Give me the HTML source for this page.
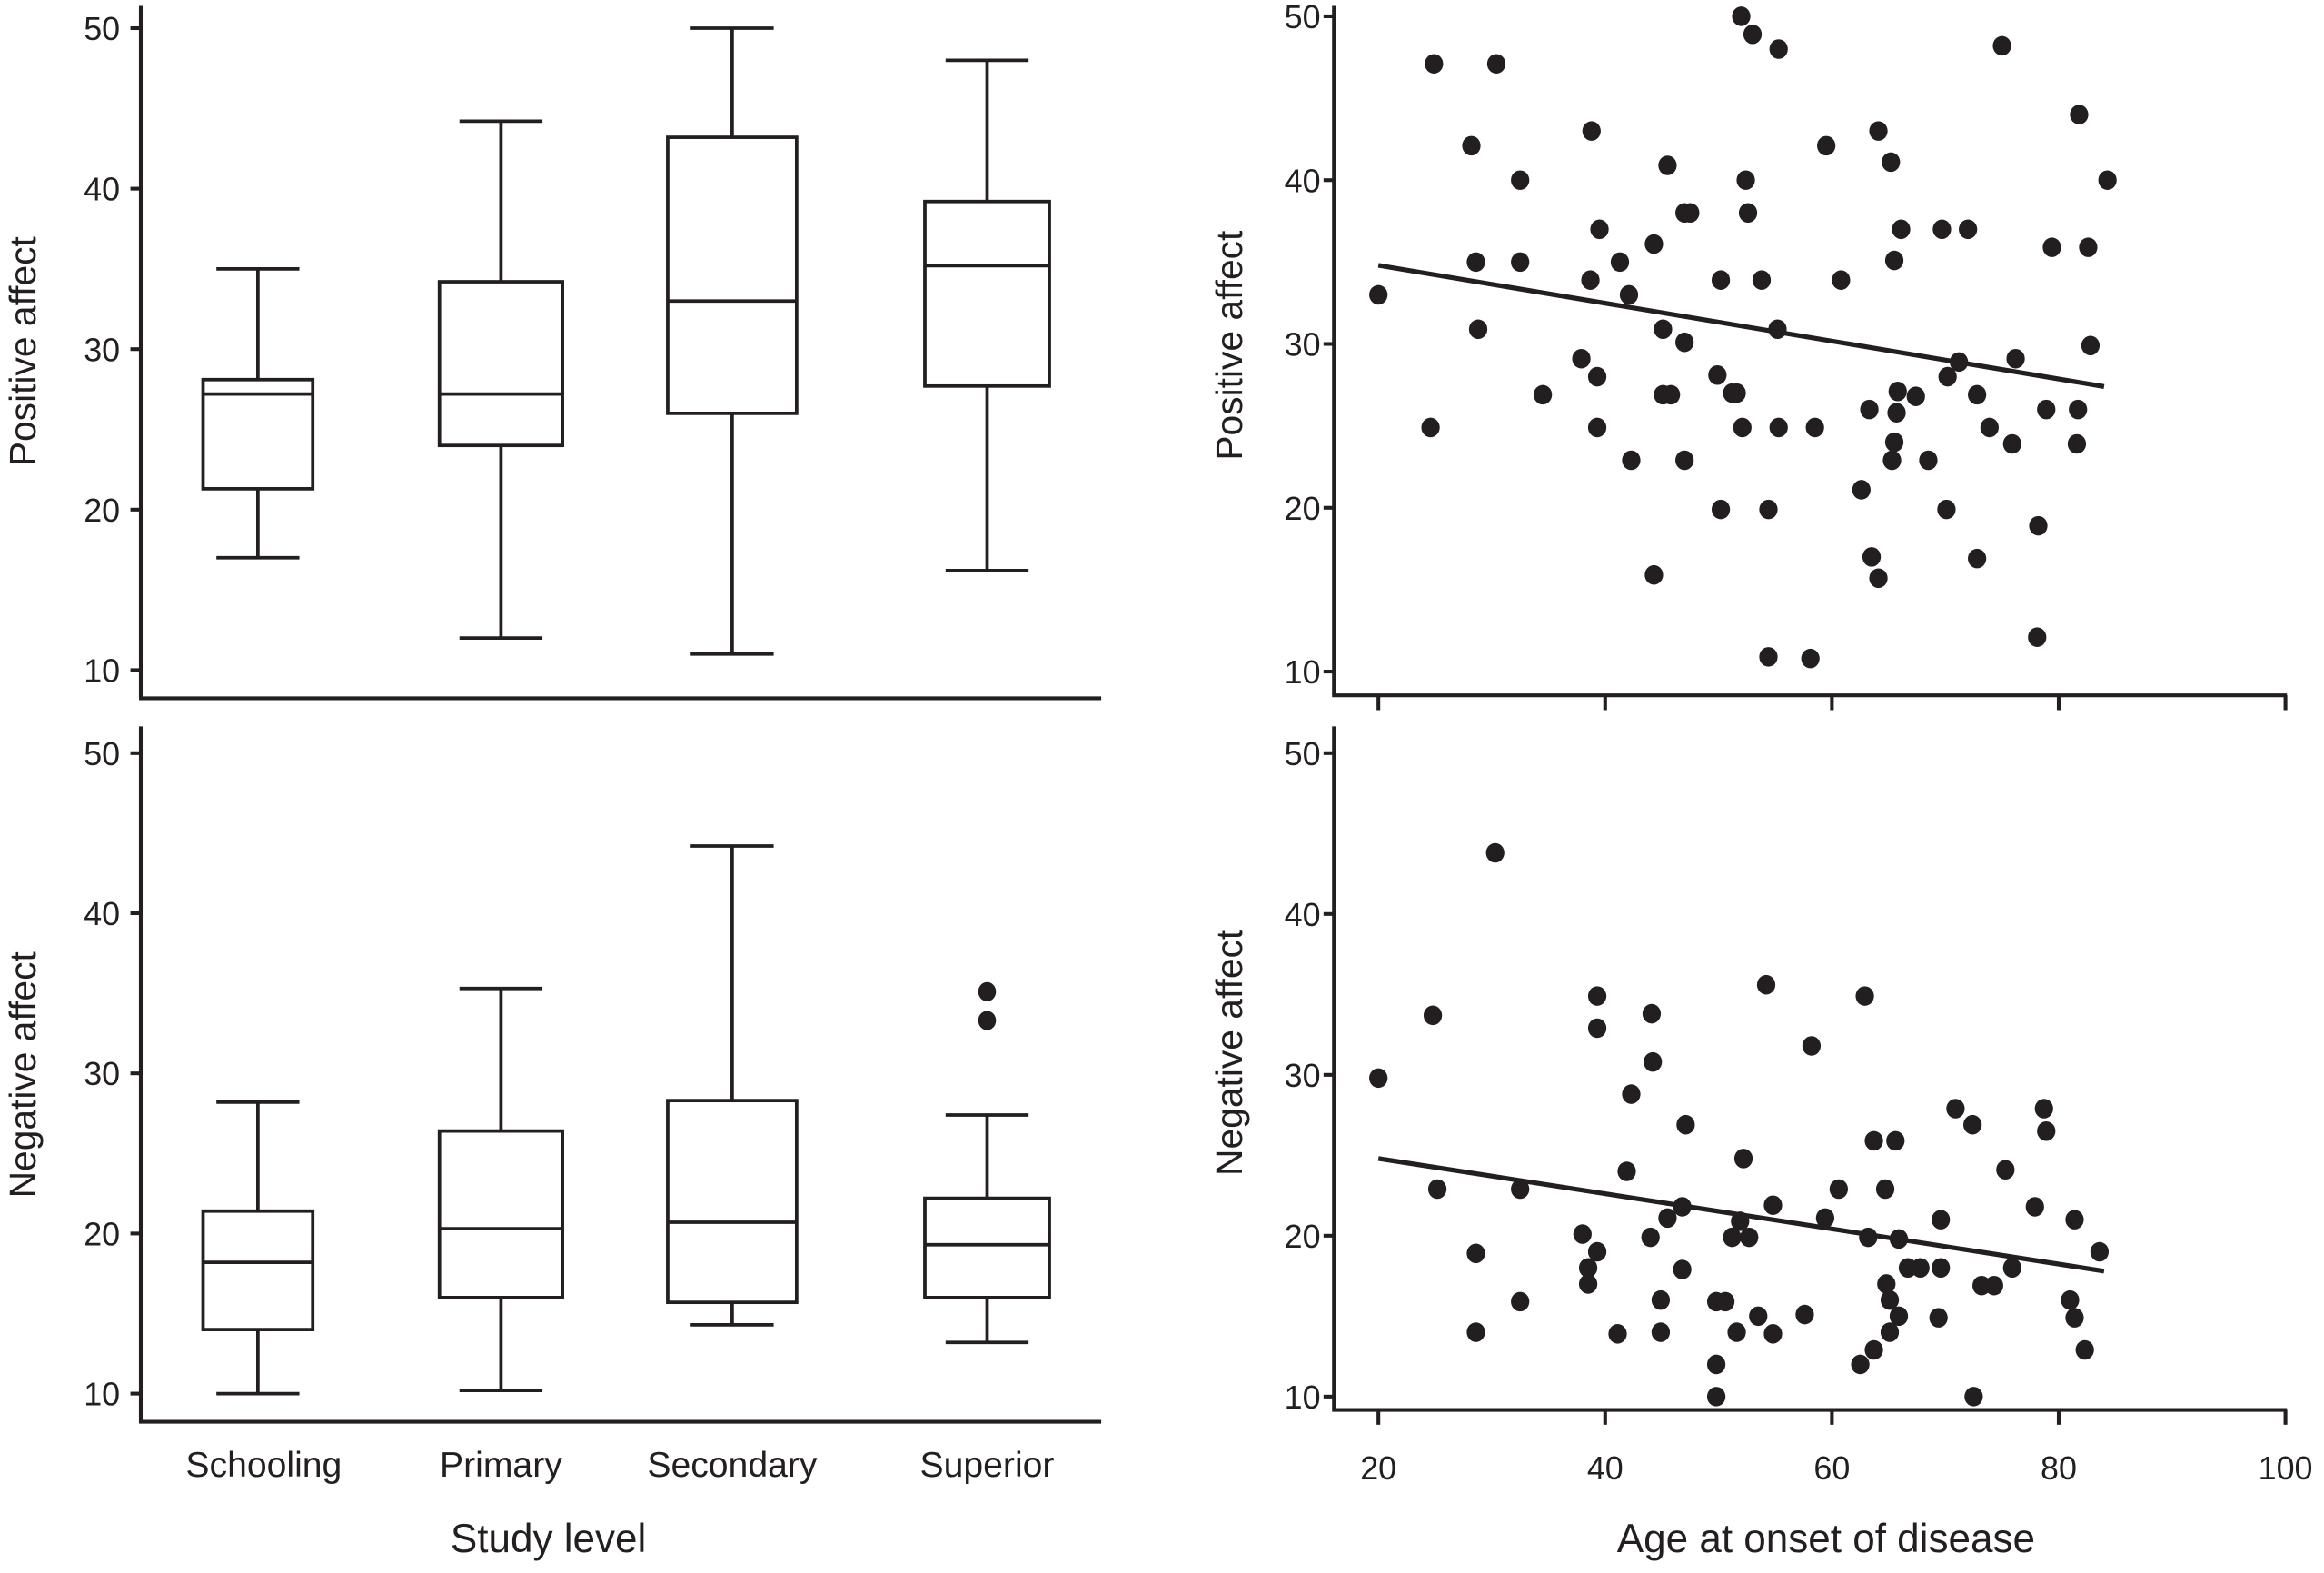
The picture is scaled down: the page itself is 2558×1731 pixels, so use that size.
<!DOCTYPE html>
<html><head><meta charset="utf-8"><style>
html,body{margin:0;padding:0;background:#fff;}
svg{display:block;}
text{font-family:"Liberation Sans",sans-serif;fill:#231f20;}
</style></head><body>
<svg id="fig" xmlns="http://www.w3.org/2000/svg" width="2558" height="1731" viewBox="0 0 1568 1061" preserveAspectRatio="none"></svg>
<script>
const categories = ["Schooling","Primary","Secondary","Superior"];
const posWhiskerLow = [17, 12, 11, 16.2];
const posQ1 = [21.3, 24, 26, 27.7];
const posMedian = [27.2, 27.2, 33, 35.2];
const posQ3 = [28.1, 34.2, 43.2, 39.2];
const posWhiskerHigh = [35, 44.2, 50, 48];
const negWhiskerLow = [10, 10.2, 14.3, 13.2];
const negQ1 = [14, 16, 15.7, 16];
const negMedian = [18.2, 20.3, 20.7, 19.3];
const negQ3 = [21.4, 26.4, 28.3, 22.2];
const negWhiskerHigh = [28.2, 35.3, 44.2, 27.4];
const negOutliers = [[3, 35.1], [3, 33.3]];
const yTicks = [10, 20, 30, 40, 50];
const xTicks = [20, 40, 60, 80, 100];

const posAge = [20,24.9,24.6,28.2,28.6,28.8,30.4,32.5,32.5,34.5,37.9,38.7,38.8,39.3,39.3,39.5,41.3,42.1,42.3,44.3,44.3,45.1,45.1,45.8,45.5,47,47,47,47.5,49.9,50.2,50.2,51.2,51.6,52,52.4,52.6,52.1,53,53.8,54.4,54.4,55.3,55.2,55.3,58.1,58.5,59.5,60.8,62.6,63.3,63.5,64.1,64.1,65.2,65.3,65.5,65.5,65.7,65.8,66.1,67.4,68.5,69.7,70.1,70.2,71.2,72,72.8,72.8,73.9,75,75.9,76.2,78.1,78.2,78.9,79.4,81.6,81.7,81.8,82.6,82.8,84.3];
const posVal = [33,47.1,24.9,42.1,35,30.9,47.1,40,35,26.9,29.1,33.9,43,28,24.9,37,35,33,22.9,36.1,15.9,30.9,26.9,26.9,40.9,30.1,22.9,38,38,28.1,33.9,19.9,27,27,50,40,38,24.9,48.9,33.9,19.9,10.9,48,30.9,24.9,10.8,24.9,42.1,33.9,21.1,26,17,43,15.7,41.1,22.9,24,35.1,25.8,27.1,37,26.8,22.9,37,19.9,28,28.9,37,16.9,26.9,24.9,48.2,23.9,29.1,12.1,18.9,26,35.9,23.9,26,44,35.9,29.9,40];
const negAge = [20,24.8,25.2,28.6,28.6,30.3,32.5,32.5,38,38.5,38.5,39.3,39.3,39.3,41.1,41.9,42.3,44,44.1,44.2,44.9,44.9,45.5,46.8,46.8,47.1,49.8,49.8,49.8,50.6,51.2,51.6,51.9,52.2,52.7,53.5,54.2,54.8,54.8,57.6,58.2,59.4,60.6,62.5,62.9,63.2,63.7,63.7,64.7,64.8,65.1,65.1,65.6,65.9,65.9,66.7,67.8,69.4,69.6,69.6,70.9,72.4,72.5,73.2,74.3,75.3,75.9,77.9,78.7,78.9,81,81.4,81.4,82.3,83.6];
const negVal = [29.8,33.7,22.9,18.9,14,43.8,22.9,15.9,20.1,18,17,34.9,32.9,19,13.9,24,28.8,19.9,33.8,30.8,16,14,21.1,17.9,21.8,26.9,12,10,15.9,15.9,19.9,14,20.9,24.8,19.9,15,35.6,13.9,21.9,15.1,31.8,21.1,22.9,12,34.9,19.9,25.9,12.9,22.9,17,16,14,25.9,19.8,15,18,18,14.9,18,21,27.9,26.9,10,16.9,16.9,24.1,18,21.8,27.9,26.5,16,21,14.9,12.9,19];
const posFit = [[20, 34.8], [84, 27.4]];
const negFit = [[20, 24.8], [84, 17.8]];

const NS = "http://www.w3.org/2000/svg";
const svg = document.getElementById('fig');
const C = "#231f20";
function mk(tag, attrs, parent) {
  const e = document.createElementNS(NS, tag);
  for (const k in attrs) e.setAttribute(k, attrs[k]);
  (parent || svg).appendChild(e);
  return e;
}
function linY(v0, p0, v1, p1) { return v => p0 + (v - v0) * (p1 - p0) / (v1 - v0); }

const catX = [174, 338, 494, 666];
const boxW = [74, 83, 87, 84];
function boxPanel(yS, lo, q1, med, q3, hi, axTop, axBot, yTitle, titleY, prefix) {
  const g = mk('g', {});
  
  
  const ya = mk('line', {x1: 95, y1: axTop, x2: 95, y2: axBot, stroke: C, 'stroke-width': 2.5}, g);
  
  
  const xa = mk('line', {x1: 93.8, y1: axBot, x2: 743, y2: axBot, stroke: C, 'stroke-width': 2.5}, g);
  
  
  yTicks.forEach(t => {
    const y = yS(t);
    mk('line', {x1: 88, y1: y, x2: 95, y2: y, stroke: C, 'stroke-width': 2.5}, g);
    const tx = mk('text', {x: 81, y: y + 8, 'text-anchor': 'end', 'font-size': 22}, g);
    tx.textContent = t;
    
    
  });
  const tt = mk('text', {x: 0, y: 0, 'text-anchor': 'middle', 'font-size': 25, transform: 'translate(24,' + titleY + ') rotate(-90)'}, g);
  tt.textContent = yTitle;
  
  
  categories.forEach((c, i) => {
    const cx = catX[i], w = boxW[i];
    const bg = mk('g', {fill: 'none', stroke: C, 'stroke-width': 2.3}, g);
    
    
    mk('line', {x1: cx, y1: yS(hi[i]), x2: cx, y2: yS(q3[i])}, bg);
    mk('line', {x1: cx, y1: yS(q1[i]), x2: cx, y2: yS(lo[i])}, bg);
    mk('line', {x1: cx - 28, y1: yS(hi[i]), x2: cx + 28, y2: yS(hi[i])}, bg);
    mk('line', {x1: cx - 28, y1: yS(lo[i]), x2: cx + 28, y2: yS(lo[i])}, bg);
    mk('rect', {x: cx - w / 2, y: yS(q3[i]), width: w, height: yS(q1[i]) - yS(q3[i])}, bg);
    mk('line', {x1: cx - w / 2, y1: yS(med[i]), x2: cx + w / 2, y2: yS(med[i])}, bg);
  });
  return g;
}
const ySTL = linY(10, 452, 50, 19);
boxPanel(ySTL, posWhiskerLow, posQ1, posMedian, posQ3, posWhiskerHigh, 4, 471, 'Positive affect', 237, 'top-left');
const ySBL = linY(10, 940, 50, 508);
const bl = boxPanel(ySBL, negWhiskerLow, negQ1, negMedian, negQ3, negWhiskerHigh, 490, 959, 'Negative affect', 725, 'bottom-left');
negOutliers.forEach(o => {
  const d = mk('ellipse', {cx: catX[o[0]], cy: ySBL(o[1]), rx: 6, ry: 6.5, fill: C}, bl);
  
  
});
categories.forEach((c, i) => {
  const t = mk('text', {x: catX[i] + (i === 0 ? 4 : 0), y: 996, 'text-anchor': 'middle', 'font-size': 24});
  t.textContent = c;
  
  
});
const sl = mk('text', {x: 370, y: 1047, 'text-anchor': 'middle', 'font-size': 27});
sl.textContent = 'Study level';



const xS = linY(20, 930, 100, 1542);
function scatterPanel(yS, xs, ys, fit, axTop, axBot, yTitle, titleY, prefix, showLabels) {
  const g = mk('g', {});
  
  
  const ya = mk('line', {x1: 900, y1: axTop, x2: 900, y2: axBot, stroke: C, 'stroke-width': 2.5}, g);
  
  
  const xa = mk('line', {x1: 898.8, y1: axBot, x2: 1543, y2: axBot, stroke: C, 'stroke-width': 2.5}, g);
  
  
  yTicks.forEach(t => {
    const y = yS(t);
    mk('line', {x1: 893, y1: y, x2: 900, y2: y, stroke: C, 'stroke-width': 2.5}, g);
    const tx = mk('text', {x: 891, y: y + 8, 'text-anchor': 'end', 'font-size': 22}, g);
    tx.textContent = t;
    
    
  });
  xTicks.forEach(t => {
    const x = xS(t);
    mk('line', {x1: x, y1: axBot, x2: x, y2: axBot + 10, stroke: C, 'stroke-width': 2.5}, g);
    if (showLabels) {
      const tx = mk('text', {x: x, y: 998, 'text-anchor': 'middle', 'font-size': 22}, g);
      tx.textContent = t;
      
      
    }
  });
  const tt = mk('text', {x: 0, y: 0, 'text-anchor': 'middle', 'font-size': 25, transform: 'translate(838,' + titleY + ') rotate(-90)'}, g);
  tt.textContent = yTitle;
  
  
  xs.forEach((v, i) => {
    const d = mk('ellipse', {cx: xS(v), cy: yS(ys[i]), rx: 6.2, ry: 6.6, fill: C}, g);
    
    
  });
  const fl = mk('line', {x1: xS(fit[0][0]), y1: yS(fit[0][1]), x2: xS(fit[1][0]), y2: yS(fit[1][1]), stroke: C, 'stroke-width': 3.2}, g);
  
  
}
const ySTR = linY(10, 453, 50, 11);
scatterPanel(ySTR, posAge, posVal, posFit, 4, 469, 'Positive affect', 233, 'top-right', false);
const ySBR = linY(10, 942, 50, 508);
scatterPanel(ySBR, negAge, negVal, negFit, 490, 951, 'Negative affect', 710, 'bottom-right', true);
const at = mk('text', {x: 1232, y: 1047, 'text-anchor': 'middle', 'font-size': 27});
at.textContent = 'Age at onset of disease';


</script>
</body></html>
